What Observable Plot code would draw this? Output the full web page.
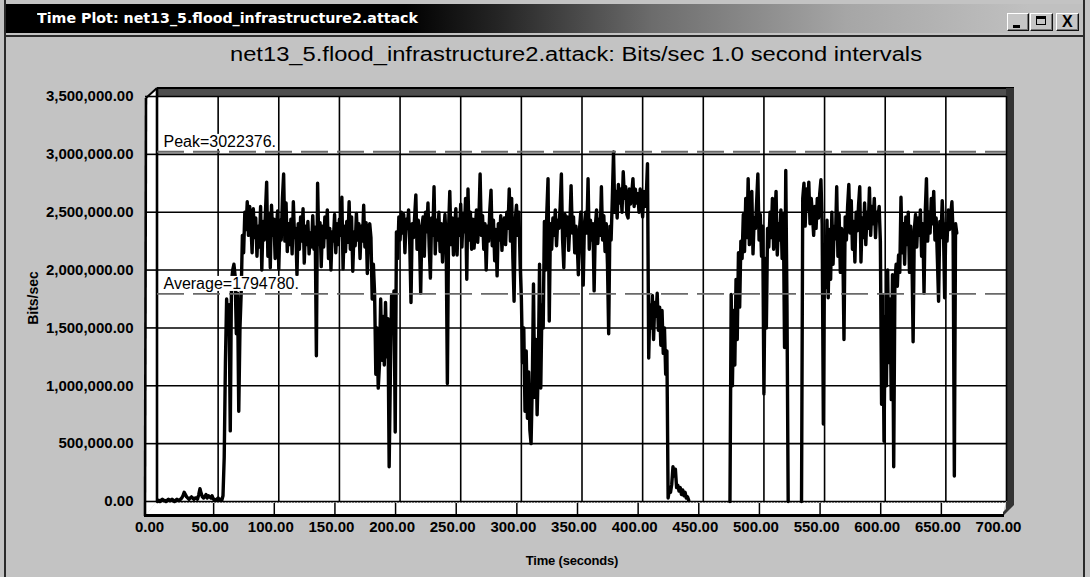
<!DOCTYPE html>
<html>
<head>
<meta charset="utf-8">
<script src="https://cdn.jsdelivr.net/npm/d3@7"></script>
<script src="https://cdn.jsdelivr.net/npm/@observablehq/plot@0.6"></script>
<style>
  html, body { margin: 0; padding: 0; }
  body { width: 1090px; height: 577px; overflow: hidden; position: relative; background: #c3c3c3;
         font-family: "Liberation Sans", Arial, sans-serif; }
  #lborder { position: absolute; left: 4px; top: 0; width: 2px; height: 577px; background: #2a2a2a; }
  #rborder { position: absolute; left: 1083px; top: 0; width: 2px; height: 577px; background: #2a2a2a; }
  #titlebar { position: absolute; left: 6px; top: 4px; width: 1077px; height: 29px;
              background: linear-gradient(to right, #000 0%, #000 37%, #262626 46%, #6c6c6c 60%, #a6a6a6 78%, #c0c0c0 95%); }
  #sep { position: absolute; left: 6px; top: 35px; width: 1077px; height: 2px; background: #2a2a2a; }
  #wintitle { position: absolute; left: 37px; top: 10px; color: #fff; white-space: nowrap;
              font: bold 14px "DejaVu Sans", sans-serif; transform-origin: 0 50%; line-height: 16px; }
  .btn { position: absolute; top: 13px; height: 18px; background: #c6c6c6; box-sizing: border-box;
         border: 1px solid; border-color: #fff #111 #111 #fff; box-shadow: inset -1px -1px 0 #777; }
  #bmin { left: 1007px; width: 22px; }
  #bmax { left: 1030px; width: 23px; }
  #bclose { left: 1056px; width: 23px; }
  #bmin i { position: absolute; left: 5px; top: 11px; width: 7px; height: 3px; background: #000; }
  #bmax i { position: absolute; left: 5px; top: 2px; width: 10px; height: 9px; border: 1.5px solid #000; border-top-width: 3px; box-sizing: border-box; }
  #bclose b { position: absolute; left: 5px; top: -1px; font: bold 16px "Liberation Sans", Arial, sans-serif; }
  #ctitle { position: absolute; left: 230px; top: 43px; white-space: nowrap; font-size: 20px; color: #000;
            transform-origin: 0 50%; line-height: 22px; }
  #ylabel { position: absolute; left: 33px; top: 298px; transform: translate(-50%, -50%) rotate(-90deg);
            font-weight: bold; font-size: 14px; white-space: nowrap; }
  #xlabel { position: absolute; left: 572px; top: 560px; transform: translate(-50%, -50%);
            font-weight: bold; font-size: 13px; white-space: nowrap; letter-spacing: -0.2px; }
  #chart { position: absolute; left: 0; top: 0; }
</style>
</head>
<body>
<div id="lborder"></div><div id="rborder"></div>
<div id="titlebar"></div>
<div id="sep"></div>
<div id="wintitle">Time Plot: net13_5.flood_infrastructure2.attack</div>
<div class="btn" id="bmin"><i></i></div>
<div class="btn" id="bmax"><i></i></div>
<div class="btn" id="bclose"><b>X</b></div>
<div id="ctitle">net13_5.flood_infrastructure2.attack: Bits/sec 1.0 second intervals</div>
<div id="chart"></div>
<div id="ylabel">Bits/sec</div>
<div id="xlabel">Time (seconds)</div>
<script>
// ---- data (values in units of 10,000 bits/sec, one per second) ----
const burstAStart = 0; // seconds 0..438
const burstA = [
  0,1,0,1,2,1,1,0,1,2,1,1,2,1,0,1,2,1,1,2,
  3,5,8,6,4,3,
  2,3,4,3,2,3,3,2,
  6,11,7,4,
  3,4,6,3,5,4,3,5,2,
  2,1,2,3,1,2,1,
  5,38,120,175,150,170,61,190,200,205,195,145,180,78,150,180,230,215,250,235,259,230,255,
  240,215,253,228,245,212,238,220,255,200,
  242,226,250,276,212,248,202,256,230,244,
  210,235,251,201,243,226,262,283,225,258,
  216,240,222,244,214,259,228,236,196,240,
  218,246,225,253,206,238,222,242,214,232,
  220,247,218,237,126,275,222,241,203,238,
  220,246,228,252,210,236,200,233,225,248,
  215,240,222,244,230,263,201,238,216,242,
  224,259,218,246,199,233,221,249,226,240,
  210,238,225,256,220,241,197,236,240,228,
  175,
  205,180,110,150,98,118,175,122,160,118,172,125,158,30,110,178,150,182,60,233,210,246,226,
  250,232,248,215,244,236,252,222,172,240,
  228,246,265,218,243,226,180,238,246,212,
  250,233,258,220,193,245,230,272,214,243,
  226,250,216,240,207,233,248,225,102,236,
  268,222,245,213,238,253,213,244,230,257,
  220,248,233,262,192,270,226,250,218,244,
  219,236,252,224,245,283,230,247,218,240,
  200,238,225,252,269,221,243,208,235,195,
  240,226,247,217,238,245,222,250,236,270,
  225,262,210,173,244,256,230,
  250,205,176,120,150,78,130,72,112,62,50,100,188,90,140,75,120,205,98,170,150,242,200,250,279,156,240,
  218,245,230,252,221,243,236,255,283,226,
  202,248,230,246,217,240,273,232,246,215,
  238,224,196,236,250,226,187,240,250,232,
  279,218,243,226,240,
  182,238,252,223,244,230,272,226,247,216,
  240,205,145,238,226,262,302,250,268,245,
  274,258,270,250,285,262,272,248,245,270,
  257,266,279,255,270,258,266,250,270,260,
  246,268,255,264,292,
  124,170,150,178,140,172,160,180,148,168,135,165,128,150,110,130,
  3,10,8,15,30,22,28,12,14,9,12,6,10,5,8,3,4,1
];
const burstBStart = 472; // seconds 472..520
const burstB = [
  0,179,100,165,118,192,140,215,168,225,
  210,248,216,262,228,279,222,250,268,214,
  245,236,259,283,226,248,212,238,93,210,
  150,236,220,250,228,262,218,245,268,213,
  240,226,252,210,248,133,286,170,0
];
const burstCStart = 531; // seconds 531..659
const burstC = [
  0,262,275,238,270,252,276,240,262,248,
  230,255,236,262,245,266,278,240,67,222,
  185,243,176,235,192,250,205,238,227,272,
  212,248,198,236,225,140,246,226,255,274,
  232,260,218,242,207,250,234,256,272,207,
  245,228,258,222,250,236,271,230,255,240,
  262,228,250,245,255,225,84,178,52,160,
  100,200,120,175,88,196,30,190,205,186,
  213,198,263,215,240,205,246,222,250,198,
  238,215,138,235,248,220,245,230,252,212,
  240,180,250,279,225,250,232,262,240,268,
  226,245,210,173,242,228,260,236,176,240,
  225,252,235,248,259,230,22,240,232
];
const refNames = ["Peak", "Average"];
const refValues = [3022376, 1794780];
const xTicks = [0,50,100,150,200,250,300,350,400,450,500,550,600,650,700];
const yTicks = [0,500000,1000000,1500000,2000000,2500000,3000000,3500000];

// ---- build table ----
const bursts = [[burstAStart, burstA], [burstBStart, burstB], [burstCStart, burstC]];
const rows = bursts.flatMap(([start, vals], k) => vals.map((v, i) => ({t: start + i, bps: v * 10000, seg: k})));
const refRows = refNames.map((n, i) => ({value: refValues[i], label: `${n}=${refValues[i]}.`}));

const chart = Plot.plot({
  width: 1090, height: 577,
  marginLeft: 157, marginRight: 84, marginTop: 96, marginBottom: 76,
  style: {background: "transparent", overflow: "visible", fontFamily: "'Liberation Sans', Arial, sans-serif", color: "#000"},
  x: {domain: [0, 700]},
  y: {domain: [0, 3500000]},
  marks: [
    Plot.frame({fill: "white", stroke: null}),
    Plot.gridX(xTicks, {stroke: "#000", strokeOpacity: 1, strokeWidth: 1.6}),
    Plot.gridY(yTicks, {stroke: "#000", strokeOpacity: 1, strokeWidth: 1.6}),
    Plot.line(rows, {x: "t", y: "bps", z: "seg", stroke: "#000", strokeWidth: 3.4}),
    Plot.ruleY(refValues, {stroke: "#6a6a6a", strokeWidth: 1.8, strokeDasharray: "27,9"}),
    Plot.text(refRows, {y: "value", text: "label", frameAnchor: "left", textAnchor: "start", dx: 6, dy: -10,
                        fontSize: 16, fill: "#000"}),
    Plot.axisY(yTicks, {tickSize: 12, tickPadding: 12, tickFormat: d3.format(",.2f"), fontSize: 15,
                        fontWeight: "bold", label: null, strokeWidth: 1.6}),
    Plot.axisX(xTicks, {tickSize: 0, tickPadding: 20, tickFormat: d3.format(".2f"), fontSize: 15,
                        fontWeight: "bold", label: null, dx: -8})
  ]
});
document.getElementById("chart").append(chart);

// ---- 3D box decoration from the plot's own scales ----
const sx = chart.scale("x"), sy = chart.scale("y");
const x0 = sx.apply(0), x1 = sx.apply(700), yb = sy.apply(0), yt = sy.apply(3500000);
const svg = d3.select(chart);
const deco = svg.insert("g", ":nth-child(2)");
// left wall
deco.append("polygon").attr("points", [[x0-11, yt+2],[x0, yt-8],[x0, yb],[x0-11, yb+14]].join(" "))
  .attr("fill", "#fff");
// floor
deco.append("polygon").attr("points", [[x0-11, yb+14],[x0, yb],[x1, yb],[x1-3, yb+14]].join(" "))
  .attr("fill", "#fff");
// top band
deco.append("rect").attr("x", x0).attr("y", yt-8).attr("width", x1 - x0 + 8).attr("height", 8).attr("fill", "#4e4e4e");
deco.append("line").attr("x1", x0).attr("x2", x1+8).attr("y1", yt-8).attr("y2", yt-8).attr("stroke", "#000").attr("stroke-width", 2);
deco.append("line").attr("x1", x0-11).attr("y1", yt+2).attr("x2", x0).attr("y2", yt-8).attr("stroke", "#000").attr("stroke-width", 2);
// right band
deco.append("polygon").attr("points", [[x1, yt-8],[x1+8, yt-8],[x1+8, yb+4],[x1-3, yb+15],[x1-3, yb+11],[x1, yb+8]].join(" "))
  .attr("fill", "#333");
// left wall edges
deco.append("line").attr("x1", x0-11).attr("x2", x0-12).attr("y1", yt+2).attr("y2", yb+15).attr("stroke", "#000").attr("stroke-width", 2.6);
deco.append("line").attr("x1", x0).attr("x2", x0).attr("y1", yt-8).attr("y2", yb).attr("stroke", "#000").attr("stroke-width", 2.6);
// floor edges
deco.append("line").attr("x1", x0).attr("x2", x1).attr("y1", yb+1).attr("y2", yb+1).attr("stroke", "#777").attr("stroke-width", 1.5).attr("stroke-dasharray", "2,1");
deco.append("line").attr("x1", x0-13).attr("x2", x1-2).attr("y1", yb+14.5).attr("y2", yb+14.5).attr("stroke", "#000").attr("stroke-width", 3);
deco.selectAll(null).data(xTicks.slice(1, -1)).join("line")
  .attr("x1", d => sx.apply(d) - 4).attr("x2", d => sx.apply(d) - 4)
  .attr("y1", yb + 2).attr("y2", yb + 14).attr("stroke", "#000").attr("stroke-width", 1.5);

// white boxes behind the reference labels
svg.selectAll("text").filter(function() { return /^(Peak|Average)=/.test(this.textContent); }).each(function() {
  const b = this.getBBox();
  const r = d3.select(this.parentNode).insert("rect", () => this)
    .attr("x", b.x - 1).attr("y", b.y + 1).attr("width", b.width + 2).attr("height", b.height - 2).attr("fill", "#fff");
  const tr = this.getAttribute("transform");
  if (tr) r.attr("transform", tr);
});

// fit text widths to the window's look
function fitWidth(id, w) {
  const el = document.getElementById(id);
  const r = el.getBoundingClientRect().width;
  el.style.transform = `scaleX(${w / r})`;
}
fitWidth("wintitle", 381);
fitWidth("ctitle", 692);
</script>
</body>
</html>
